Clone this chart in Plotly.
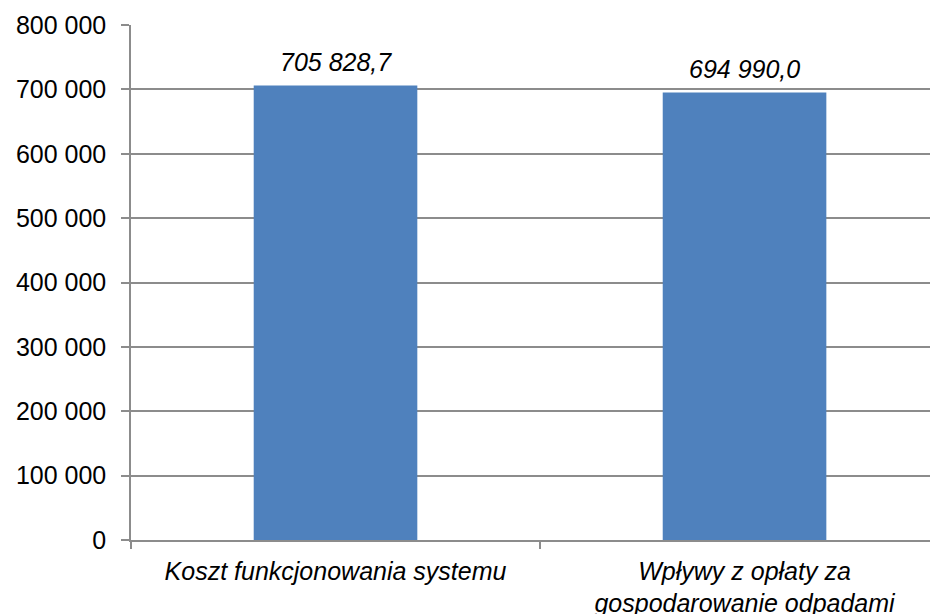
import plotly.graph_objects as go

categories = ["Koszt funkcjonowania systemu", "Wpływy z opłaty za<br>gospodarowanie odpadami"]
values = [705828.7, 694990.0]
y_ticks = [0, 100000, 200000, 300000, 400000, 500000, 600000, 700000, 800000]

FONT = "Liberation Sans, Arial, sans-serif"
GRID = "#8c8c8c"

fig = go.Figure()
fig.add_trace(go.Bar(
    x=categories, y=values,
    marker=dict(color="#4F81BD", line=dict(width=0)),
    width=0.4,
    hoverinfo="skip",
))

for c, v in zip(categories, values):
    fig.add_annotation(
        x=c, y=v, xref="x", yref="y",
        text=f"<i>{v:,.1f}</i>".replace(",", " ").replace(".", ","),
        showarrow=False, yanchor="bottom", yshift=8,
        font=dict(family=FONT, size=25, color="black"),
    )

fig.update_layout(
    width=930, height=606,
    margin=dict(l=123, r=0, t=17, b=74, autoexpand=False),
    plot_bgcolor="white", paper_bgcolor="white",
    separators=", ",
    showlegend=False,
    bargap=0.6,
)
fig.update_xaxes(
    range=[-0.5, 1.473],
    showline=True, linecolor=GRID, linewidth=1.5,
    ticks="outside", tickson="boundaries", ticklen=7, tickcolor=GRID, tickwidth=1.5,
    tickfont=dict(family=FONT, size=25, color="black", style="italic"),
    showgrid=False,
    ticklabelstandoff=8,
)
fig.update_yaxes(
    range=[0, 800000],
    tickvals=y_ticks, tickformat=",d",
    showline=True, linecolor=GRID, linewidth=1.5,
    ticks="outside", ticklen=8, tickcolor=GRID, tickwidth=1.5,
    showgrid=True, gridcolor=GRID, gridwidth=1.5,
    zeroline=False,
    tickfont=dict(family=FONT, size=25, color="black"),
    ticklabelstandoff=10,
)

fig.write_html("out.html")
